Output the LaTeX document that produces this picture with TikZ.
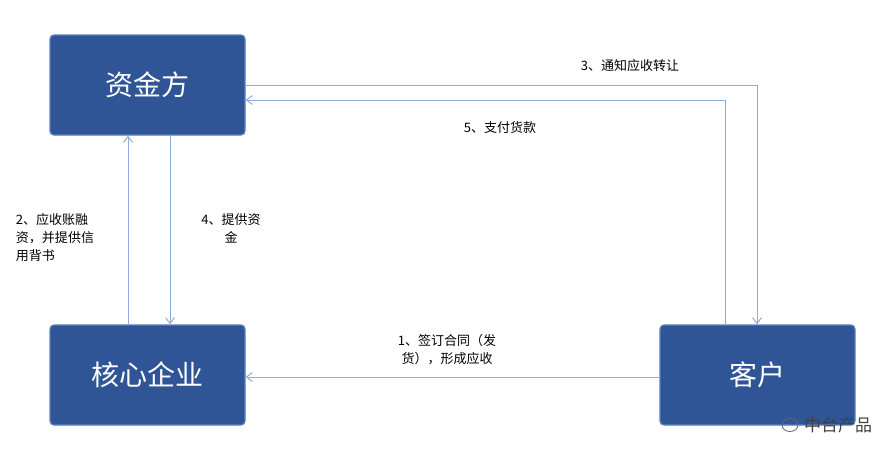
\documentclass[tikz,border=0pt]{standalone}
\usepackage{fontspec}
\setmainfont{Noto Sans CJK SC}
\usetikzlibrary{arrows.meta,shapes.geometric}
\definecolor{boxfill}{HTML}{2F5597}
\definecolor{boxline}{HTML}{5B7FBF}
\definecolor{lnk}{HTML}{8FAADC}
\tikzset{
 box/.style={draw=boxline,line width=1.2pt,fill=boxfill,rounded corners=4pt,minimum width=195pt,minimum height=100pt,text=white,font=\fontsize{28}{32}\selectfont},
 con/.style={draw=lnk,line width=1pt,-{Straight Barb[length=6pt,width=9pt]}},
 lab/.style={font=\fontsize{13}{18}\selectfont,text=black,align=center}
}
\begin{document}
\begin{tikzpicture}[x=1pt,y=-1pt]
\useasboundingbox (0,0) rectangle (882,451);
\node[box] (zj) at (147.5,85) {资金方};
\node[box] (hx) at (147.5,375) {核心企业};
\node[box] (kh) at (757.5,375) {客户};
\coordinate (c3) at (757,85);
\coordinate (c5) at (725,100);
\draw[con] (zj.east |- 0,85) -- (c3) -- (kh.north -| 757,0);
\draw[con] (kh.north -| 725,0) -- (c5) -- (zj.east |- 0,100);
\draw[con] (hx.north -| 128,0) -- (zj.south -| 128,0);
\draw[con] (zj.south -| 170,0) -- (hx.north -| 170,0);
\draw[con] (kh.west |- 0,377) -- (hx.east |- 0,377);
\node[lab] (l3) at (630,66) {3、通知应收转让};
\node[lab] (l5) at (500,128) {5、支付货款};
\node[lab,align=left] (l2) at (55,238) {2、应收账融\\资，并提供信\\用背书};
\node[lab] (l4) at (231,228) {4、提供资\\金};
\node[lab] (l1) at (447,350) {1、签订合同（发\\货），形成应收};
\node[font=\fontsize{17}{20}\selectfont,text=black!75] (wm) at (838,425) {中台产品};
\node[draw=black!60,ellipse,minimum width=16pt,minimum height=13pt,inner sep=0pt,line width=0.8pt] (ic) at (790,425) {};
\end{tikzpicture}
\end{document}
